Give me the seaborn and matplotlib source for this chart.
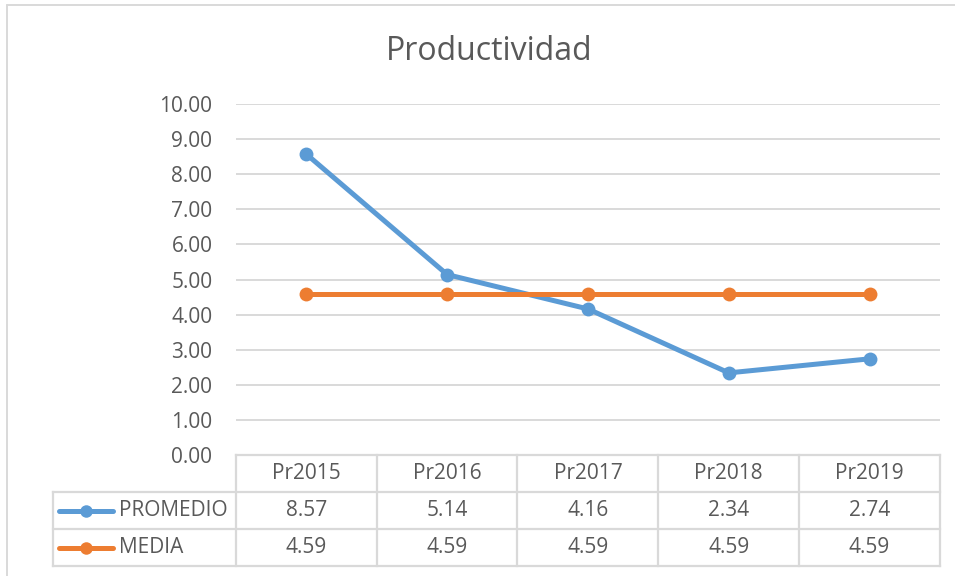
import pandas as pd
import matplotlib.pyplot as plt
import seaborn as sns
from matplotlib.lines import Line2D

# data
periods = ['Pr2015', 'Pr2016', 'Pr2017', 'Pr2018', 'Pr2019']
promedio = [8.57, 5.14, 4.16, 2.34, 2.74]
media = [4.59, 4.59, 4.59, 4.59, 4.59]
series_names = ['PROMEDIO', 'MEDIA']
colors = ['#5B9BD5', '#ED7D31']

df = pd.DataFrame({
    'Periodo': periods * 2,
    'Valor': promedio + media,
    'Serie': [series_names[0]] * len(periods) + [series_names[1]] * len(periods),
})

sns.set_style('white')
plt.rcParams['font.family'] = ['Open Sans', 'DejaVu Sans']
txt = '#595959'
grid = '#D9D9D9'
fs = 15

W, H = 955, 576
fig = plt.figure(figsize=(W / 100, H / 100), dpi=100)

# chart border: only top and left edges are visible in the screenshot
fig.add_artist(Line2D([7 / W, 7 / W], [0, 1 - 5 / H], transform=fig.transFigure,
                      color=grid, linewidth=1.4))
fig.add_artist(Line2D([7 / W, 1], [1 - 5 / H, 1 - 5 / H], transform=fig.transFigure,
                      color=grid, linewidth=1.4))

ax = fig.add_axes([236 / W, 1 - 455 / H, (940 - 236) / W, (455 - 104) / H])
sns.lineplot(data=df, x='Periodo', y='Valor', hue='Serie', palette=colors,
             marker='o', markersize=10, markeredgewidth=0, linewidth=3.6,
             legend=False, ax=ax, zorder=3)
ax.set_xlim(-0.5, len(periods) - 0.5)
ax.set_ylim(0, 10)
ax.set_yticks(range(0, 11))
ax.set_yticklabels([f'{v:.2f}' for v in range(0, 11)], color=txt, fontsize=fs)
ax.tick_params(axis='y', length=0, pad=17)
ax.set_xticks([])
ax.set_xlabel('')
ax.set_ylabel('')
ax.yaxis.grid(True, color=grid, linewidth=1.4)
for s in ax.spines.values():
    s.set_visible(False)

fig.text(489 / W, 1 - 51 / H, 'Productividad', ha='center', va='center',
         fontsize=23, color=txt)

# data table below the plot
lab_left = -0.5 - (236 - 53) / 141
tab = fig.add_axes([53 / W, 1 - 566 / H, (940 - 53) / W, (566 - 455) / H])
tab.set_xlim(lab_left, len(periods) - 0.5)
tab.set_ylim(3, 0)
tab.axis('off')
lk = dict(color=grid, linewidth=1.6, capstyle='projecting', clip_on=False)
n = len(periods)
tab.hlines(0, -0.5, n - 0.5, **lk)
tab.hlines([1, 2, 3], lab_left, n - 0.5, **lk)
tab.vlines([i - 0.5 for i in range(n + 1)], 0, 3, **lk)
tab.vlines(lab_left, 1, 3, **lk)
for i, p in enumerate(periods):
    tab.text(i, 0.5, p, ha='center', va='center', fontsize=fs, color=txt)
for r, (name, vals, c) in enumerate(zip(series_names, [promedio, media], colors)):
    y = r + 1.5
    key_x0 = lab_left + 6 / 141
    key_x1 = lab_left + 60 / 141
    tab.add_line(Line2D([key_x0, key_x1], [y, y], color=c, linewidth=3.6,
                        solid_capstyle='round'))
    tab.plot([(key_x0 + key_x1) / 2], [y], 'o', color=c, markersize=9, markeredgewidth=0)
    tab.text(lab_left + 66 / 141, y, name, ha='left', va='center', fontsize=fs, color=txt)
    for i, v in enumerate(vals):
        tab.text(i, y, f'{v:.2f}', ha='center', va='center', fontsize=fs, color=txt)

fig.savefig('out.png', dpi=100)
